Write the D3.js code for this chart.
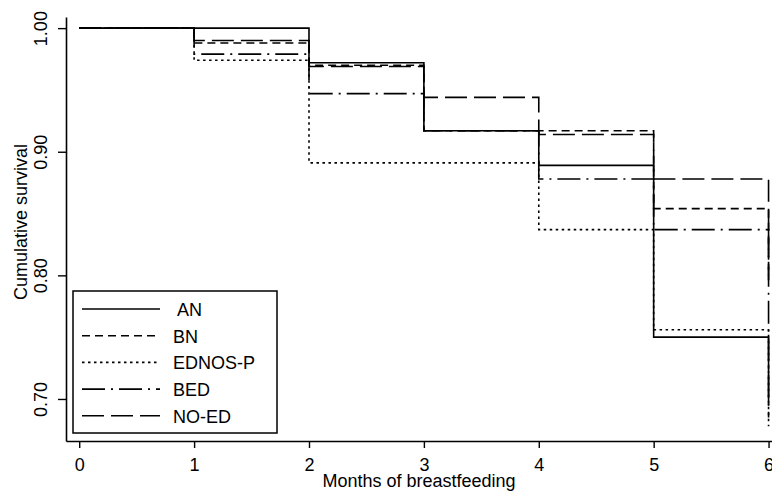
<!DOCTYPE html>
<html>
<head>
<meta charset="utf-8">
<script src="https://cdn.jsdelivr.net/npm/d3@7.9.0/dist/d3.min.js"></script>
<style>
  body { margin: 0; background: #fff; }
  text { font-family: "Liberation Sans", Arial, sans-serif; fill: #000; }
</style>
</head>
<body>
<div id="chart"></div>
<script>
// months at which the step values start
const months = [0, 1, 2, 3, 4, 5, 6];

// cumulative survival per group
const anValues    = [1.000, 1.000, 0.972, 0.917, 0.889, 0.750, 0.695];
const bnValues    = [1.000, 0.988, 0.970, 0.917, 0.917, 0.854, 0.800];
const ednosValues = [1.000, 0.974, 0.891, 0.891, 0.837, 0.756, 0.678];
const bedValues   = [1.000, 0.979, 0.947, 0.917, 0.878, 0.837, 0.685];
const noedValues  = [1.000, 0.990, 0.969, 0.944, 0.914, 0.878, 0.796];

const groupLabels = [" AN", "BN", "EDNOS-P", "BED", "NO-ED"];
const xTicks = [0, 1, 2, 3, 4, 5, 6];
const yTicks = [0.70, 0.80, 0.90, 1.00];

const CONFIG = {
  WIDTH: 772,
  HEIGHT: 493,
  X_RANGE: [66, 772],
  Y_RANGE: [441, 17],
  X_DOMAIN: [-0.115, 6.03],
  Y_DOMAIN: [0.666, 1.009],
};

const dashes = ["none", "8,5", "2.5,3.5", "23,6,2,6", "22,7"];
const series = [anValues, bnValues, ednosValues, bedValues, noedValues];

const svg = d3.select("#chart").append("svg")
  .attr("width", CONFIG.WIDTH)
  .attr("height", CONFIG.HEIGHT);

svg.append("rect")
  .attr("width", CONFIG.WIDTH)
  .attr("height", CONFIG.HEIGHT)
  .attr("fill", "#fff");

const xScale = d3.scaleLinear().domain(CONFIG.X_DOMAIN).range(CONFIG.X_RANGE);
const yScale = d3.scaleLinear().domain(CONFIG.Y_DOMAIN).range(CONFIG.Y_RANGE);

const line = d3.line()
  .x((d, i) => xScale(months[i]))
  .y(d => yScale(d))
  .curve(d3.curveStepAfter);

// axes
const xAxis = svg.append("g")
  .attr("transform", `translate(0,${CONFIG.Y_RANGE[0]})`)
  .call(d3.axisBottom(xScale).tickValues(xTicks).tickFormat(d3.format("d"))
    .tickSize(7).tickSizeOuter(0).tickPadding(10));

const yAxis = svg.append("g")
  .attr("transform", `translate(${CONFIG.X_RANGE[0]},0)`)
  .call(d3.axisLeft(yScale).tickValues(yTicks).tickFormat(d3.format(".2f"))
    .tickSize(8).tickSizeOuter(0));

[xAxis, yAxis].forEach(g => {
  g.select(".domain").attr("stroke", "#000").attr("stroke-width", 1.6);
  g.selectAll(".tick line").attr("stroke", "#000").attr("stroke-width", 1.4);
  g.selectAll(".tick text")
    .attr("font-family", "Liberation Sans, Arial, sans-serif")
    .attr("font-size", 18)
    .attr("fill", "#000");
});

yAxis.selectAll(".tick text")
  .attr("x", null).attr("dy", null)
  .attr("text-anchor", "middle")
  .attr("transform", "translate(-19,0) rotate(-90)");

// survival curves
series.forEach((vals, i) => {
  svg.append("path")
    .datum(vals)
    .attr("d", line)
    .attr("fill", "none")
    .attr("stroke", "#000")
    .attr("stroke-width", 1.6)
    .attr("stroke-dasharray", dashes[i]);
});

// axis titles
svg.append("text")
  .attr("x", (CONFIG.X_RANGE[0] + CONFIG.X_RANGE[1]) / 2)
  .attr("y", 487)
  .attr("text-anchor", "middle")
  .attr("font-size", 18)
  .text("Months of breastfeeding");

svg.append("text")
  .attr("transform", "translate(27,222) rotate(-90)")
  .attr("text-anchor", "middle")
  .attr("font-size", 18)
  .text("Cumulative survival");

// legend
const legend = svg.append("g").attr("transform", "translate(73,291)");

legend.append("rect")
  .attr("width", 204)
  .attr("height", 142)
  .attr("fill", "#fff")
  .attr("stroke", "#000")
  .attr("stroke-width", 1.5);

groupLabels.forEach((label, i) => {
  const y = 18 + i * 26.7;
  legend.append("line")
    .attr("x1", 9).attr("x2", 87)
    .attr("y1", y).attr("y2", y)
    .attr("stroke", "#000")
    .attr("stroke-width", 1.6)
    .attr("stroke-dasharray", dashes[i]);

  legend.append("text")
    .attr("x", 100).attr("y", y + 7)
    .attr("font-size", 18)
    .attr("xml:space", "preserve")
    .style("white-space", "pre")
    .text(label);
});
</script>
</body>
</html>
